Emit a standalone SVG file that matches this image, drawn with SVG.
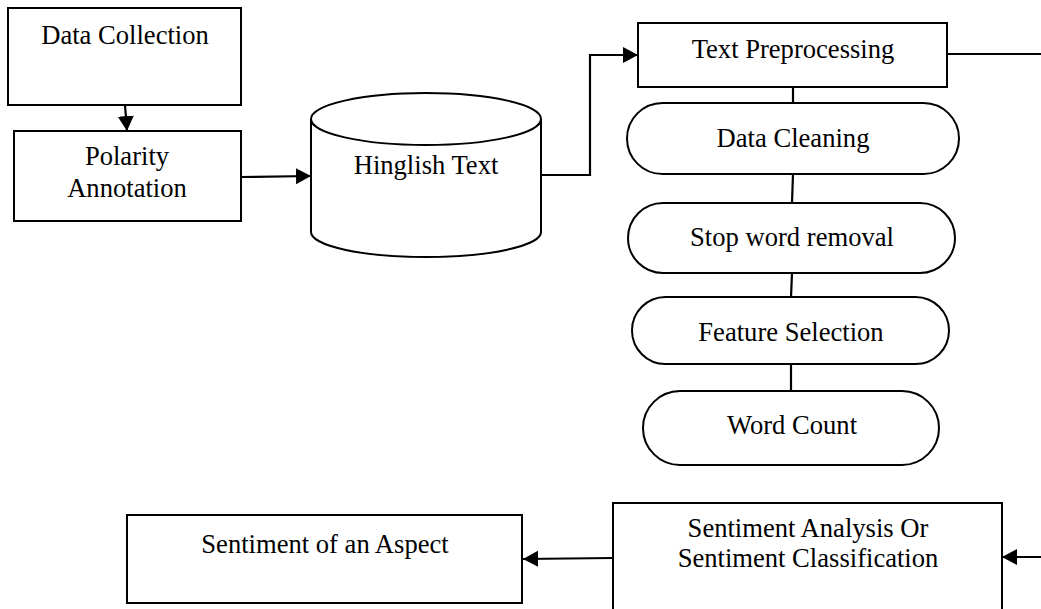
<svg xmlns="http://www.w3.org/2000/svg" width="1041" height="609" viewBox="0 0 1041 609">
<style>
.s{fill:#fff;stroke:#000;stroke-width:2}
.t{font-family:"Liberation Serif","Times New Roman",serif;font-size:26.6px;fill:#000;text-anchor:middle}
.c{fill:none;stroke:#000;stroke-width:2.2}
</style>
<defs>
<marker id="ah" markerUnits="userSpaceOnUse" markerWidth="17" markerHeight="17" refX="15" refY="8" orient="auto">
<path d="M0,0 L15,8 L0,16 Z" fill="#000"/>
</marker>
</defs>
<rect width="1041" height="609" fill="#fff"/>
<g id="connectors">
<path class="c" d="M125,105 L127,131" marker-end="url(#ah)"/>
<path class="c" d="M241,177 L311,176" marker-end="url(#ah)"/>
<path class="c" d="M541,175 H590 V55 H638" marker-end="url(#ah)"/>
<path class="c" d="M947,54 H1050 V557 H1002" marker-end="url(#ah)"/>
<path class="c" d="M793,87 V103"/>
<path class="c" d="M793,174 L792,203"/>
<path class="c" d="M792,273 L791,297"/>
<path class="c" d="M791,364 V391"/>
<path class="c" d="M613,558 L523,559" marker-end="url(#ah)"/>
</g>
<g id="data-collection">
<rect class="s" x="8" y="8" width="233" height="97"/>
<text class="t" x="125" y="44">Data Collection</text>
</g>
<g id="polarity-annotation">
<rect class="s" x="14" y="131" width="227" height="90"/>
<text class="t" x="127" y="165">Polarity</text>
<text class="t" x="127" y="197">Annotation</text>
</g>
<g id="hinglish-text">
<path class="s" d="M311,119 A115,26 0 0 1 541,119 V232 A115,25 0 0 1 311,232 Z"/>
<path class="s" d="M311,119 A115,26 0 0 0 541,119" fill="none"/>
<text class="t" x="426" y="174">Hinglish Text</text>
</g>
<g id="text-preprocessing">
<rect class="s" x="638" y="23" width="309" height="64"/>
<text class="t" x="793" y="58">Text Preprocessing</text>
</g>
<g id="data-cleaning">
<rect class="s" x="627" y="103" width="332" height="71" rx="35.5" ry="35.5"/>
<text class="t" x="793" y="147">Data Cleaning</text>
</g>
<g id="stop-word-removal">
<rect class="s" x="628" y="203" width="327" height="70" rx="35" ry="35"/>
<text class="t" x="792" y="246">Stop word removal</text>
</g>
<g id="feature-selection">
<rect class="s" x="632" y="297" width="317" height="67" rx="33.5" ry="33.5"/>
<text class="t" x="791" y="341">Feature Selection</text>
</g>
<g id="word-count">
<rect class="s" x="643" y="391" width="296" height="74" rx="37" ry="37"/>
<text class="t" x="792" y="434">Word Count</text>
</g>
<g id="sentiment-analysis">
<rect class="s" x="613" y="503" width="389" height="120"/>
<text class="t" x="808" y="537">Sentiment Analysis Or</text>
<text class="t" x="808" y="567">Sentiment Classification</text>
</g>
<g id="sentiment-aspect">
<rect class="s" x="127" y="515" width="395" height="88"/>
<text class="t" x="325" y="553">Sentiment of an Aspect</text>
</g>
</svg>
